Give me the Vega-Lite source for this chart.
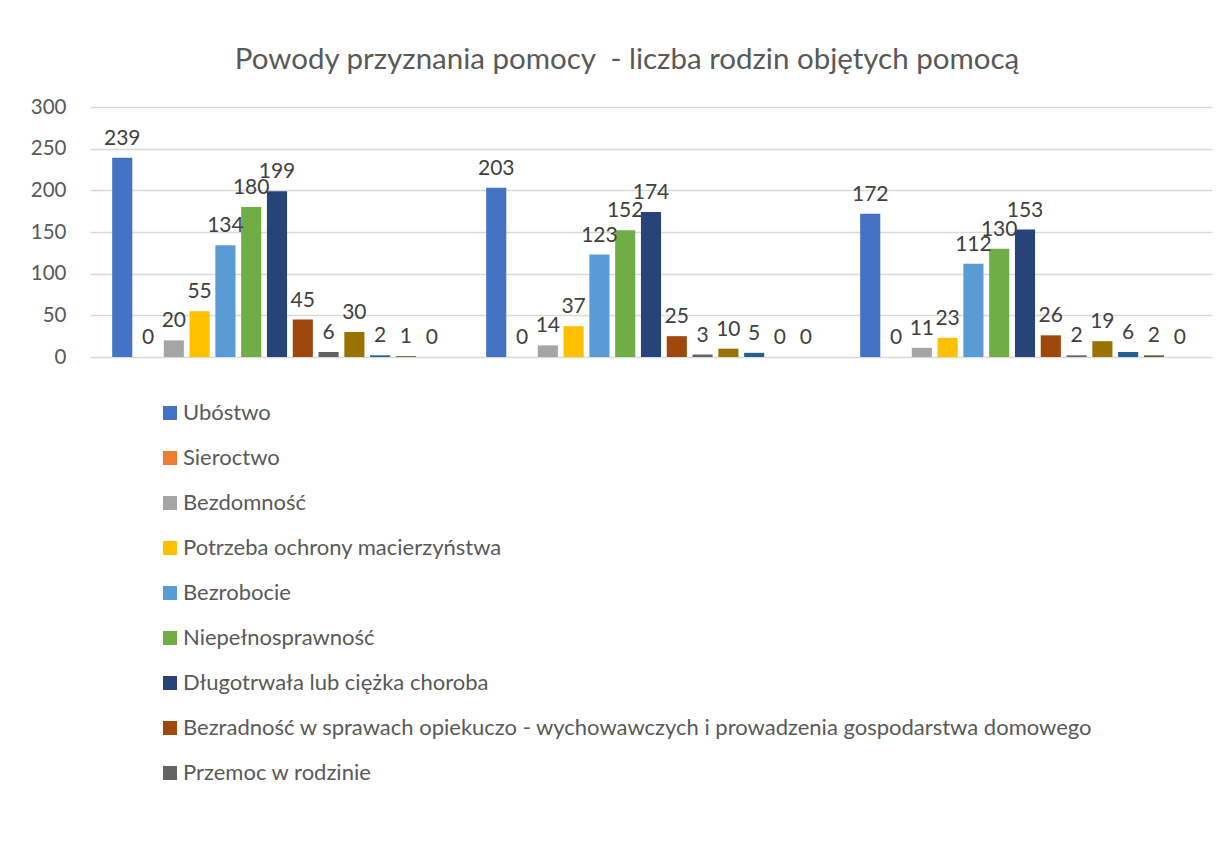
{
  "$schema": "https://vega.github.io/schema/vega-lite/v6.json",
  "width": 1122,
  "height": 250,
  "padding": {"left": 30, "top": 44, "right": 5, "bottom": 5},
  "background": "white",
  "title": {
    "text": "Powody przyznania pomocy\u00a0 - liczba rodzin objętych pomocą",
    "font": "Lato",
    "fontSize": 29.5,
    "fontWeight": "normal",
    "color": "#595959",
    "anchor": "middle",
    "dx": -24,
    "offset": 22
  },
  "config": {
    "view": {"stroke": null},
    "font": "Lato"
  },
  "data": {
    "values": [
      {"grupa": "1", "powod": "Ubóstwo", "liczba": 239},
      {"grupa": "1", "powod": "Sieroctwo", "liczba": 0},
      {"grupa": "1", "powod": "Bezdomność", "liczba": 20},
      {"grupa": "1", "powod": "Potrzeba ochrony macierzyństwa", "liczba": 55},
      {"grupa": "1", "powod": "Bezrobocie", "liczba": 134},
      {"grupa": "1", "powod": "Niepełnosprawność", "liczba": 180},
      {"grupa": "1", "powod": "Długotrwała lub ciężka choroba", "liczba": 199},
      {"grupa": "1", "powod": "Bezradność w sprawach opiekuczo - wychowawczych i prowadzenia gospodarstwa domowego", "liczba": 45},
      {"grupa": "1", "powod": "Przemoc w rodzinie", "liczba": 6},
      {"grupa": "1", "powod": "Alkoholizm", "liczba": 30},
      {"grupa": "1", "powod": "Narkomania", "liczba": 2},
      {"grupa": "1", "powod": "Trudności w przystosowaniu do życia po zwolnieniu z zakładu karnego", "liczba": 1},
      {"grupa": "1", "powod": "Zdarzenie losowe", "liczba": 0},
      {"grupa": "2", "powod": "Ubóstwo", "liczba": 203},
      {"grupa": "2", "powod": "Sieroctwo", "liczba": 0},
      {"grupa": "2", "powod": "Bezdomność", "liczba": 14},
      {"grupa": "2", "powod": "Potrzeba ochrony macierzyństwa", "liczba": 37},
      {"grupa": "2", "powod": "Bezrobocie", "liczba": 123},
      {"grupa": "2", "powod": "Niepełnosprawność", "liczba": 152},
      {"grupa": "2", "powod": "Długotrwała lub ciężka choroba", "liczba": 174},
      {"grupa": "2", "powod": "Bezradność w sprawach opiekuczo - wychowawczych i prowadzenia gospodarstwa domowego", "liczba": 25},
      {"grupa": "2", "powod": "Przemoc w rodzinie", "liczba": 3},
      {"grupa": "2", "powod": "Alkoholizm", "liczba": 10},
      {"grupa": "2", "powod": "Narkomania", "liczba": 5},
      {"grupa": "2", "powod": "Trudności w przystosowaniu do życia po zwolnieniu z zakładu karnego", "liczba": 0},
      {"grupa": "2", "powod": "Zdarzenie losowe", "liczba": 0},
      {"grupa": "3", "powod": "Ubóstwo", "liczba": 172},
      {"grupa": "3", "powod": "Sieroctwo", "liczba": 0},
      {"grupa": "3", "powod": "Bezdomność", "liczba": 11},
      {"grupa": "3", "powod": "Potrzeba ochrony macierzyństwa", "liczba": 23},
      {"grupa": "3", "powod": "Bezrobocie", "liczba": 112},
      {"grupa": "3", "powod": "Niepełnosprawność", "liczba": 130},
      {"grupa": "3", "powod": "Długotrwała lub ciężka choroba", "liczba": 153},
      {"grupa": "3", "powod": "Bezradność w sprawach opiekuczo - wychowawczych i prowadzenia gospodarstwa domowego", "liczba": 26},
      {"grupa": "3", "powod": "Przemoc w rodzinie", "liczba": 2},
      {"grupa": "3", "powod": "Alkoholizm", "liczba": 19},
      {"grupa": "3", "powod": "Narkomania", "liczba": 6},
      {"grupa": "3", "powod": "Trudności w przystosowaniu do życia po zwolnieniu z zakładu karnego", "liczba": 2},
      {"grupa": "3", "powod": "Zdarzenie losowe", "liczba": 0}
    ]
  },
  "encoding": {
    "x": {
      "field": "grupa",
      "type": "nominal",
      "scale": {"paddingInner": 0, "paddingOuter": 0},
      "axis": {"title": null, "labels": false, "ticks": false, "domain": false}
    },
    "xOffset": {
      "field": "powod",
      "type": "nominal",
      "sort": ["Ubóstwo", "Sieroctwo", "Bezdomność", "Potrzeba ochrony macierzyństwa", "Bezrobocie", "Niepełnosprawność", "Długotrwała lub ciężka choroba", "Bezradność w sprawach opiekuczo - wychowawczych i prowadzenia gospodarstwa domowego", "Przemoc w rodzinie", "Alkoholizm", "Narkomania", "Trudności w przystosowaniu do życia po zwolnieniu z zakładu karnego", "Zdarzenie losowe"],
      "scale": {"paddingInner": 0.22, "paddingOuter": 0.86}
    },
    "y": {
      "field": "liczba",
      "type": "quantitative",
      "scale": {"domain": [0, 300]},
      "axis": {
        "title": null,
        "values": [0, 50, 100, 150, 200, 250, 300],
        "domain": false,
        "ticks": false,
        "labelPadding": 24,
        "labelFont": "Lato",
        "labelFontSize": 20.5,
        "labelColor": "#595959",
        "gridColor": "#D9D9D9",
        "gridWidth": 1.3,
        "minExtent": 58,
        "maxExtent": 58
      }
    }
  },
  "layer": [
    {
      "mark": {"type": "bar"},
      "encoding": {
        "color": {
          "field": "powod",
          "type": "nominal",
          "scale": {
            "domain": ["Ubóstwo", "Sieroctwo", "Bezdomność", "Potrzeba ochrony macierzyństwa", "Bezrobocie", "Niepełnosprawność", "Długotrwała lub ciężka choroba", "Bezradność w sprawach opiekuczo - wychowawczych i prowadzenia gospodarstwa domowego", "Przemoc w rodzinie", "Alkoholizm", "Narkomania", "Trudności w przystosowaniu do życia po zwolnieniu z zakładu karnego", "Zdarzenie losowe"],
            "range": ["#4472C4", "#ED7D31", "#A5A5A5", "#FFC000", "#5B9BD5", "#70AD47", "#264478", "#9E480E", "#636363", "#997300", "#255E91", "#43682B", "#698ED0"]
          },
          "legend": {
            "title": null,
            "orient": "none",
            "legendX": 69,
            "legendY": 295,
            "direction": "vertical",
            "padding": 0,
            "values": ["Ubóstwo", "Sieroctwo", "Bezdomność", "Potrzeba ochrony macierzyństwa", "Bezrobocie", "Niepełnosprawność", "Długotrwała lub ciężka choroba", "Bezradność w sprawach opiekuczo - wychowawczych i prowadzenia gospodarstwa domowego", "Przemoc w rodzinie"],
            "symbolType": "square",
            "symbolSize": 196,
            "symbolStrokeWidth": 0,
            "symbolOpacity": 1,
            "labelFont": "Lato",
            "labelFontSize": 22,
            "labelColor": "#595959",
            "labelLimit": 1100,
            "labelOffset": 2,
            "rowPadding": 23
          }
        }
      }
    },
    {
      "mark": {"type": "text", "baseline": "alphabetic", "dy": -13, "font": "Lato", "fontSize": 21, "color": "#404040"},
      "encoding": {
        "text": {"field": "liczba", "type": "quantitative"}
      }
    }
  ]
}
